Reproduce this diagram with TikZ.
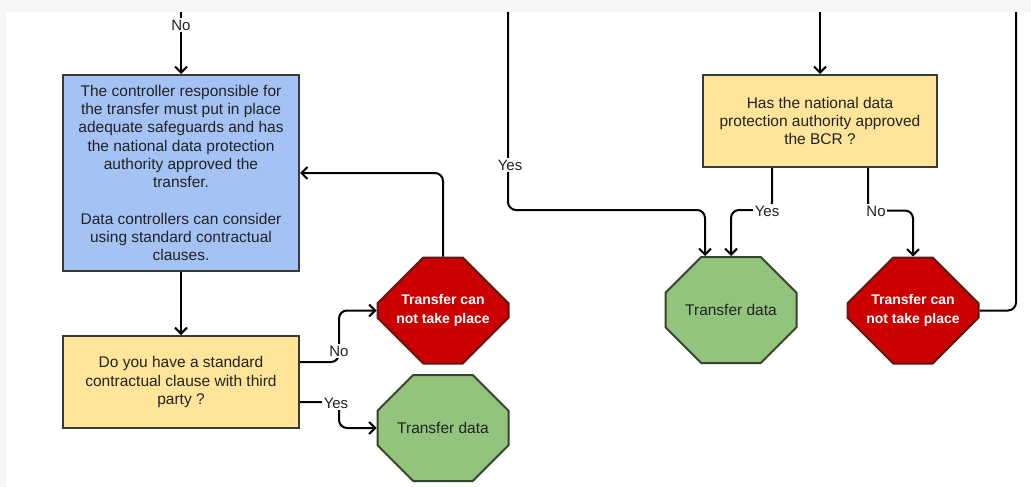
\documentclass[tikz,border=0pt]{standalone}
\usepackage{fontspec}
\setmainfont{Liberation Sans}
\usetikzlibrary{shapes.misc,arrows.meta,calc}

\definecolor{pageframe}{HTML}{F6F6F6}
\definecolor{boxblue}{HTML}{A4C2F4}
\definecolor{boxyellow}{HTML}{FFE599}
\definecolor{boxedge}{HTML}{3A3A34}
\definecolor{stopred}{HTML}{CC0000}
\definecolor{stopedge}{HTML}{5C1A14}
\definecolor{gogreen}{HTML}{93C47D}
\definecolor{goedge}{HTML}{34452C}
\definecolor{inktext}{HTML}{222222}

\tikzset{
  txt/.style={font=\fontsize{15.5}{18.3}\selectfont, text=inktext, align=center},
  actionbox/.style={txt, rectangle, draw=boxedge, line width=2pt, fill=boxblue,
    minimum width=236pt, minimum height=196pt, inner sep=0pt},
  questionbox/.style={txt, rectangle, draw=boxedge, line width=2pt, fill=boxyellow,
    minimum width=236pt, minimum height=92pt, inner sep=0pt},
  octo/.style={chamfered rectangle, chamfered rectangle xsep=37pt,
    chamfered rectangle ysep=30pt, minimum width=131pt, minimum height=106pt,
    inner sep=0pt, line width=2pt, align=center},
  stopnode/.style={octo, draw=stopedge, fill=stopred, text=white,
    font=\fontsize{14}{18.5}\selectfont\bfseries},
  gonode/.style={octo, draw=goedge, fill=gogreen, text=inktext,
    font=\fontsize{15.5}{18}\selectfont},
  link/.style={draw=black, line width=2pt, rounded corners=8pt},
  arr/.style={link, -{Straight Barb[length=6pt,width=12pt,line width=2pt]}},
  lbl/.style={fill=white, inner sep=1.5pt, text=inktext,
    font=\fontsize{15}{17}\selectfont}
}

\begin{document}
\begin{tikzpicture}[x=1pt,y=-1pt]
  \useasboundingbox (0,0) rectangle (1031,487);
  % page background with its thin grey frame along top and left
  \fill[white] (0,0) rectangle (1031,487);
  \fill[pageframe] (0,0) rectangle (1031,12);
  \fill[pageframe] (0,0) rectangle (6,487);

  % boxes
  \node[actionbox] (safeguards) at (181,173)
    {The controller responsible for\\the transfer must put in place\\adequate safeguards and has\\the national data protection\\authority approved the\\transfer.\\[18.3pt]Data controllers can consider\\using standard contractual\\clauses.};
  \node[questionbox] (sccq) at (181,382)
    {Do you have a standard\\contractual clause with third\\party ?};
  \node[questionbox, minimum width=234pt] (bcrq) at (820,121)
    {Has the national data\\protection authority approved\\the BCR ?};

  % terminals
  \node[stopnode] (stopA) at (443,310.5) {Transfer can\\not take place};
  \node[gonode]   (goA)   at (443,428) {Transfer data};
  \node[gonode]   (goB)   at (731,310) {Transfer data};
  \node[stopnode] (stopB) at (913,310.5) {Transfer can\\not take place};

  % loose ends entering from above / leaving to the top
  \coordinate (inL)   at (181,12);
  \coordinate (inY)   at (508,12);
  \coordinate (inR)   at (820,12);
  \coordinate (outR)  at (1016,12);

  % left column
  \draw[arr] (inL) -- (safeguards.north);
  \node[lbl] (noTop) at (181,25) {No};
  \draw[arr] (safeguards.south) -- (sccq.north);
  \draw[arr] (stopA.north) |- (safeguards.east);

  \draw[arr] ($(sccq.east)+(0,-20)$) -- ++(39,0) |- (stopA.west);
  \node[lbl] (noSCC) at (339,351) {No};
  \draw[arr] ($(sccq.east)+(0,20)$) -- ++(39,0) |- (goA.west);
  \node[lbl] (yesSCC) at (336,403) {Yes};

  % right column
  \draw[arr] (inY) |- ($(goB.north)+(-26,-46)$) -- ($(goB.north)+(-26,0)$);
  \node[lbl] (yesTop) at (510,165) {Yes};
  \draw[arr] (inR) -- (bcrq.north);
  \draw[arr] ($(bcrq.south)+(-48,0)$) |- ($(goB.north)+(0,-46)$) -- (goB.north);
  \node[lbl] (yesBCR) at (767,211) {Yes};
  \draw[arr] ($(bcrq.south)+(48,0)$) |- ($(stopB.north)+(0,-46)$) -- (stopB.north);
  \node[lbl] (noBCR) at (876,211) {No};
  \draw[link] (stopB.east) -| (outR);
\end{tikzpicture}
\end{document}
